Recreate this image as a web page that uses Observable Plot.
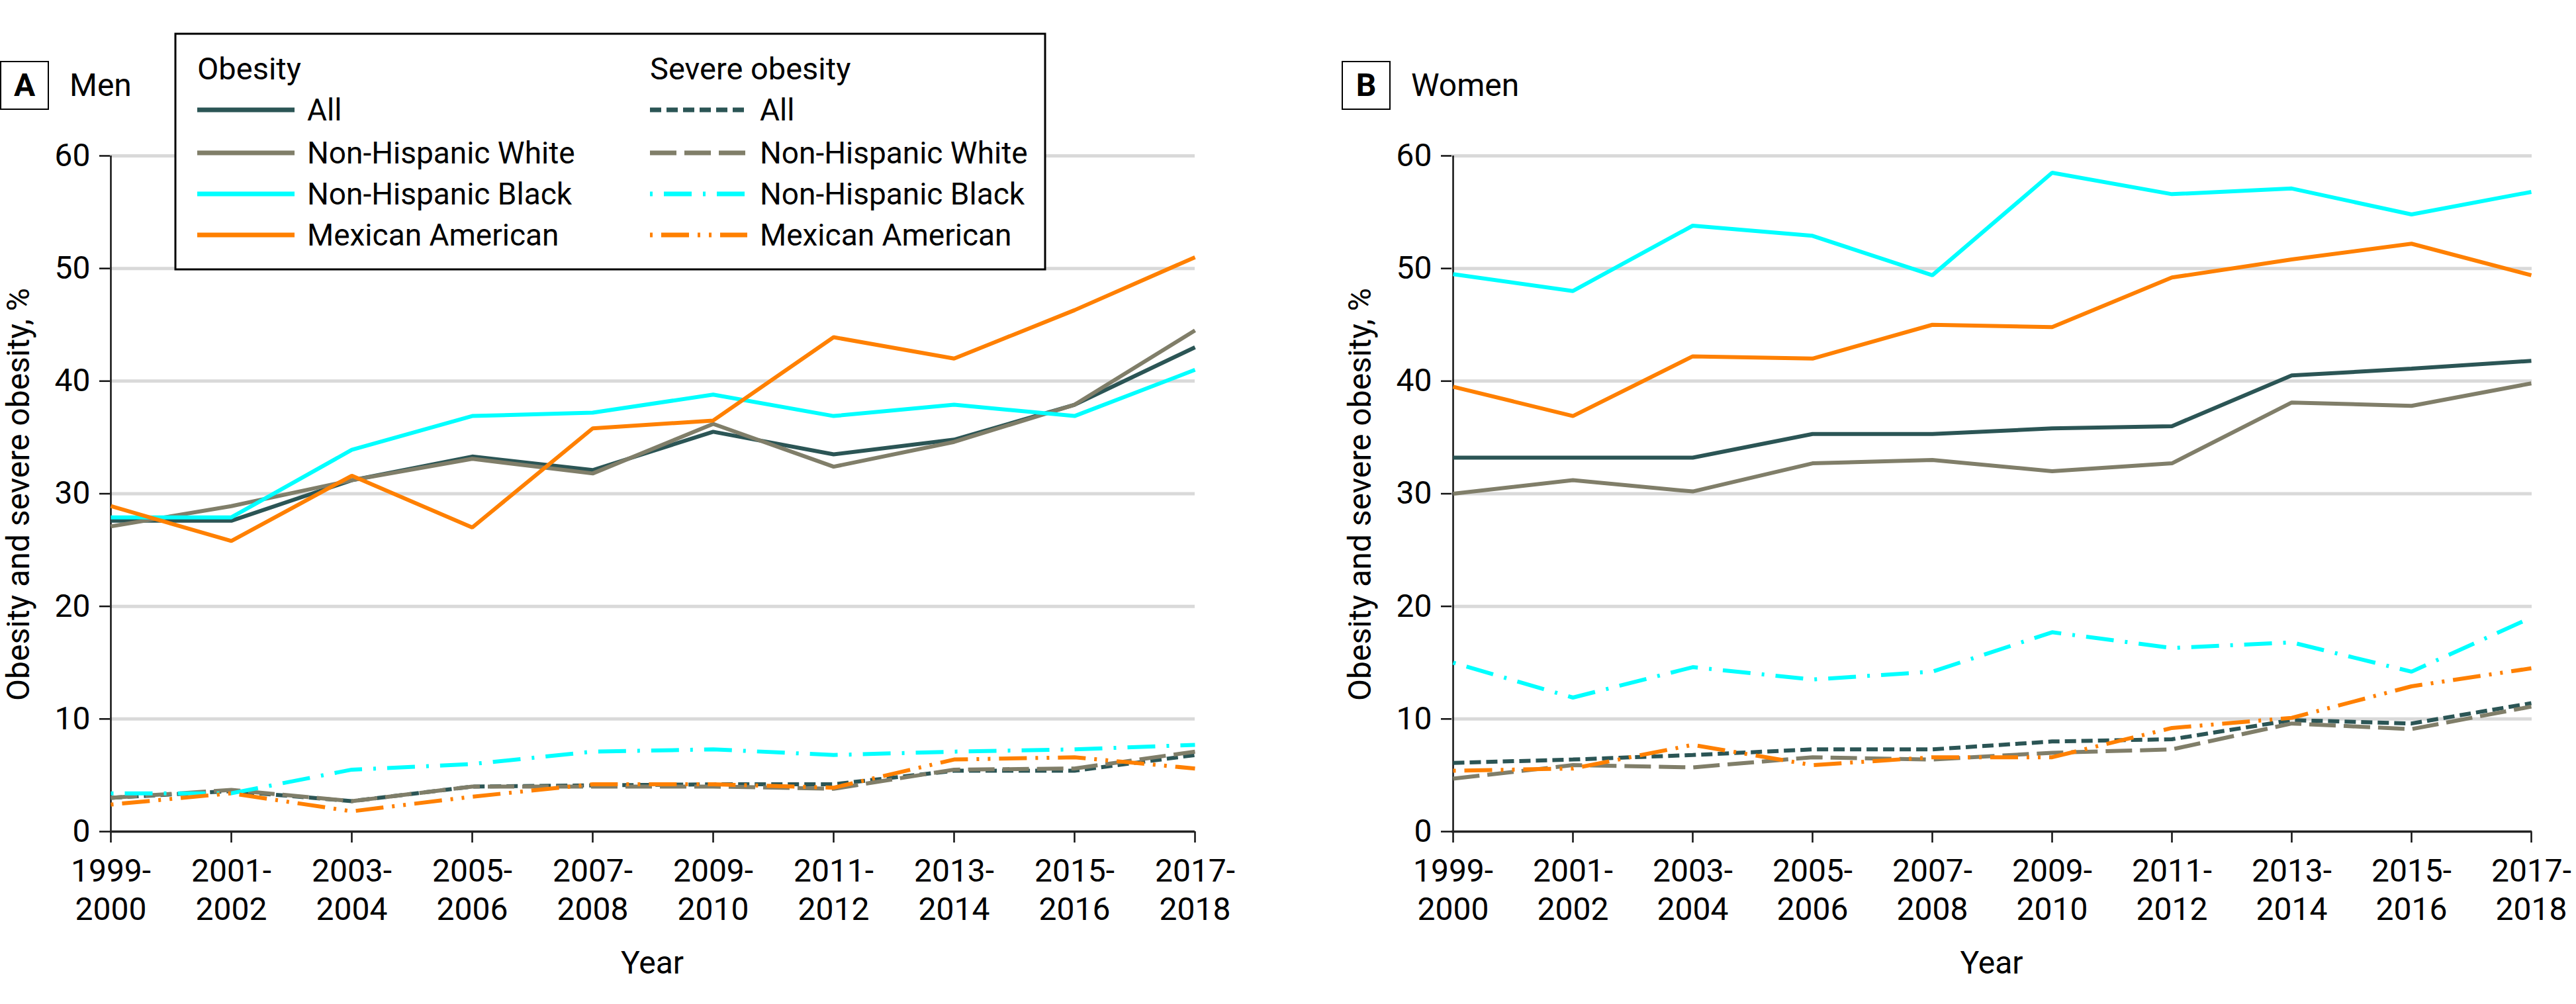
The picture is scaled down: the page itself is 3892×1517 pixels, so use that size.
<!DOCTYPE html>
<html><head><meta charset="utf-8">
<script src="https://cdn.jsdelivr.net/npm/d3@7"></script>
<script src="https://cdn.jsdelivr.net/npm/@observablehq/plot@0.6"></script>
<style>
body{margin:0;background:#fff;}
#root{position:relative;width:3892px;height:1517px;font-family:Roboto,sans-serif;color:#000;overflow:hidden;background:#fff}
.badge{position:absolute;width:74px;height:74px;border:2.5px solid #000;font-weight:700;font-size:48px;display:flex;align-items:center;justify-content:center;box-sizing:border-box;line-height:1}
.ptitle{position:absolute;font-size:48px;line-height:74px;height:74px}
.ylab{position:absolute;font-size:48px;white-space:nowrap;transform:translate(-50%,-50%) rotate(-90deg);line-height:1}
.xlab{position:absolute;font-size:48px;transform:translateX(-50%);line-height:1}
.plot{position:absolute;top:180px}
</style></head>
<body><div id="root"></div>
<script>
// ---- data ----
const periods = ["1999-2000","2001-2002","2003-2004","2005-2006","2007-2008","2009-2010","2011-2012","2013-2014","2015-2016","2017-2018"];
const groups = ["All","Non-Hispanic White","Non-Hispanic Black","Mexican American"];
const groupColors = ["#2b5555","#807e69","#00ffff","#ff8000"];
const severeDash = ["17,8","40,12","4,17,42,17","4,13,42,13,4,13"];
const yTicks = [0,10,20,30,40,50,60];
const gridTicks = [10,20,30,40,50,60];

// Men (A)
const menObesityAll   = [27.6,27.6,31.2,33.3,32.1,35.5,33.5,34.8,37.9,43.0];
const menObesityWhite = [27.1,28.9,31.2,33.1,31.8,36.2,32.4,34.6,37.9,44.5];
const menObesityBlack = [27.9,27.9,33.9,36.9,37.2,38.8,36.9,37.9,36.9,41.0];
const menObesityMex   = [28.9,25.8,31.6,27.0,35.8,36.5,43.9,42.0,46.3,51.0];
const menSevereAll    = [3.0,3.6,2.7,4.0,4.1,4.2,4.2,5.4,5.4,6.8];
const menSevereWhite  = [3.0,3.7,2.7,4.0,4.0,4.0,3.8,5.5,5.6,7.1];
const menSevereBlack  = [3.4,3.4,5.5,6.0,7.1,7.3,6.8,7.1,7.3,7.7];
const menSevereMex    = [2.4,3.4,1.8,3.1,4.2,4.2,3.9,6.4,6.6,5.6];

// Women (B)
const womenObesityAll   = [33.2,33.2,33.2,35.3,35.3,35.8,36.0,40.5,41.1,41.8];
const womenObesityWhite = [30.0,31.2,30.2,32.7,33.0,32.0,32.7,38.1,37.8,39.8];
const womenObesityBlack = [49.5,48.0,53.8,52.9,49.4,58.5,56.6,57.1,54.8,56.8];
const womenObesityMex   = [39.5,36.9,42.2,42.0,45.0,44.8,49.2,50.8,52.2,49.4];
const womenSevereAll    = [6.1,6.4,6.8,7.3,7.3,8.0,8.2,9.9,9.6,11.4];
const womenSevereWhite  = [4.7,5.9,5.7,6.6,6.4,7.0,7.3,9.6,9.1,11.1];
const womenSevereBlack  = [15.0,11.9,14.6,13.5,14.2,17.7,16.3,16.8,14.2,19.0];
const womenSevereMex    = [5.4,5.6,7.7,5.9,6.6,6.6,9.2,10.1,12.9,14.5];

const root = document.getElementById("root");

function toRows(values){ return values.map((v,i)=>({period: periods[i], value: v})); }

function makePanel(obesity, severe, left, width, marginRight, letter, title, badgeLeft){
  const marks = [
    Plot.gridY(gridTicks, {stroke:"#d9d9d9", strokeOpacity:1, strokeWidth:5}),
    Plot.ruleX([periods[0]], {y1:0, y2:60, stroke:"#111", strokeWidth:2.5}),
    Plot.axisY({ticks: yTicks, tickSize:16, tickPadding:14, fontSize:48, label:null, stroke:"#111", strokeWidth:2.5, fill:"#000"}),
    Plot.axisX({tickSize:17, tickPadding:18, fontSize:48, lineHeight:1.2, label:null, stroke:"#111", strokeWidth:2.5, fill:"#000",
      tickFormat: d => d.replace("-", "-\n")})
  ];
  severe.forEach((s,i)=>{
    marks.push(Plot.line(toRows(s), {x:"period", y:"value", stroke:groupColors[i], strokeWidth:6, strokeDasharray:severeDash[i], strokeLinecap:"butt", strokeLinejoin:"miter"}));
  });
  obesity.forEach((s,i)=>{
    marks.push(Plot.line(toRows(s), {x:"period", y:"value", stroke:groupColors[i], strokeWidth:6, strokeLinecap:"butt", strokeLinejoin:"miter"}));
  });
  marks.push(Plot.ruleY([0], {stroke:"#222", strokeWidth:3.5}));
  const chart = Plot.plot({
    width, height:1337, marginTop:55, marginBottom:261, marginLeft:166, marginRight,
    style:{fontFamily:"Roboto, sans-serif", fontSize:"48px", color:"#000", background:"transparent", overflow:"visible"},
    x:{type:"point", domain:periods, padding:0},
    y:{domain:[0,60]},
    marks
  });
  chart.classList.add("plot");
  chart.style.left = left + "px";
  root.appendChild(chart);

  const b = document.createElement("div");
  b.className = "badge"; b.textContent = letter;
  b.style.left = badgeLeft + "px"; b.style.top = "92px";
  root.appendChild(b);
  const t = document.createElement("div");
  t.className = "ptitle"; t.textContent = title;
  t.style.left = (badgeLeft + 105) + "px"; t.style.top = "92px";
  root.appendChild(t);

  const axisLeft = left + 166;
  const axisRight = left + width - marginRight;
  const yl = document.createElement("div");
  yl.className = "ylab"; yl.textContent = "Obesity and severe obesity, %";
  yl.style.left = (axisLeft - 138) + "px"; yl.style.top = "747px";
  root.appendChild(yl);
  const xl = document.createElement("div");
  xl.className = "xlab"; xl.textContent = "Year";
  xl.style.left = ((axisLeft + axisRight)/2) + "px"; xl.style.top = "1431px";
  root.appendChild(xl);
}

makePanel([menObesityAll,menObesityWhite,menObesityBlack,menObesityMex],
          [menSevereAll,menSevereWhite,menSevereBlack,menSevereMex],
          0, 1875, 70, "A", "Men", 0);
makePanel([womenObesityAll,womenObesityWhite,womenObesityBlack,womenObesityMex],
          [womenSevereAll,womenSevereWhite,womenSevereBlack,womenSevereMex],
          2027, 1865, 67, "B", "Women", 2027);

// ---- legend ----
const lg = d3.select(root).append("svg")
  .attr("width", 1318).attr("height", 360)
  .style("position","absolute").style("left","263px").style("top","49px")
  .style("font-family","Roboto, sans-serif");
lg.append("rect").attr("x",2).attr("y",2).attr("width",1314).attr("height",356)
  .attr("fill","#fff").attr("stroke","#000").attr("stroke-width",3);
const cols = [{x:35, title:"Obesity", dash:[null,null,null,null]},
              {x:719, title:"Severe obesity", dash:severeDash}];
const rowY = [117, 182, 244, 306];
cols.forEach(c=>{
  lg.append("text").attr("x", c.x).attr("y", 71).attr("font-size",47).text(c.title);
  groups.forEach((g,i)=>{
    lg.append("line").attr("x1", c.x).attr("x2", c.x+147).attr("y1", rowY[i]).attr("y2", rowY[i])
      .attr("stroke", groupColors[i]).attr("stroke-width", 7)
      .attr("stroke-dasharray", c.dash[i]);
    lg.append("text").attr("x", c.x+166).attr("y", rowY[i]).attr("dy","0.35em")
      .attr("font-size",46).text(g);
  });
});
</script>
</body></html>
